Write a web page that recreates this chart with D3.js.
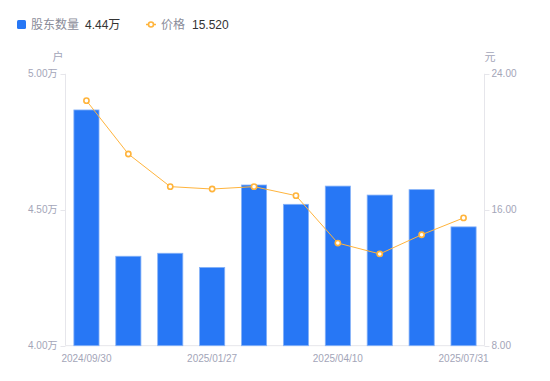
<!DOCTYPE html>
<html><head><meta charset="utf-8">
<script src="https://cdn.jsdelivr.net/npm/d3@7"></script>
<style>
body{margin:0;background:#fff;}
svg{display:block;font-family:"Liberation Sans",Arial,"Noto Sans CJK SC",sans-serif;}
</style></head>
<body>
<svg id="c" width="550" height="381"></svg>
<script>
const dates = ["2024/09/30","2024/10/31","2024/12/20","2025/01/27","2025/02/28","2025/03/20","2025/04/10","2025/05/20","2025/06/30","2025/07/31"];
const holders = [4.867,4.329,4.340,4.288,4.591,4.520,4.587,4.554,4.574,4.437];
const prices = [22.42,19.28,17.36,17.22,17.36,16.83,14.04,13.40,14.53,15.52];
const leftTicks = [4.00,4.50,5.00];
const rightTicks = [8,16,24];
const xLabels = ["2024/09/30","2025/01/27","2025/04/10","2025/07/31"];

const svg = d3.select("#c");
const L = 65.5, R = 484.5, T = 73.8, B = 345.7;
const cjk = '"Noto Sans CJK SC","Liberation Sans",sans-serif';
const axisColor = "#A3A5B8";
const lineColor = "#E6E6EB";

const x = d3.scaleBand().domain(dates).range([L, R]).paddingInner(0.4).paddingOuter(0.2);
const yL = d3.scaleLinear().domain([4, 5]).range([B, T]);
const yR = d3.scaleLinear().domain([8, 24]).range([B, T]);

svg.append("line").attr("x1", L).attr("x2", L).attr("y1", T).attr("y2", B).attr("stroke", lineColor);
svg.append("line").attr("x1", R).attr("x2", R).attr("y1", T).attr("y2", B).attr("stroke", lineColor);
svg.append("line").attr("x1", L).attr("x2", R).attr("y1", B).attr("y2", B).attr("stroke", lineColor);

svg.selectAll(".lt").data(leftTicks).enter().append("line")
  .attr("x1", L - 5).attr("x2", L).attr("y1", d => Math.round(yL(d)) + 0.5).attr("y2", d => Math.round(yL(d)) + 0.5)
  .attr("stroke", lineColor);
svg.selectAll(".ltl").data(leftTicks).enter().append("text")
  .attr("x", L - 8).attr("y", d => yL(d) + 3.5).attr("text-anchor", "end")
  .attr("font-size", 10).attr("fill", axisColor)
  .text(d => d.toFixed(2) + "万");
svg.selectAll(".rt").data(rightTicks).enter().append("line")
  .attr("x1", R).attr("x2", R + 5).attr("y1", d => Math.round(yR(d)) + 0.5).attr("y2", d => Math.round(yR(d)) + 0.5)
  .attr("stroke", lineColor);
svg.selectAll(".rtl").data(rightTicks).enter().append("text")
  .attr("x", R + 7).attr("y", d => yR(d) + 3.5).attr("text-anchor", "start")
  .attr("font-size", 10).attr("fill", axisColor)
  .text(d => d.toFixed(2));

svg.append("text").attr("x", 58).attr("y", 61).attr("text-anchor", "middle").attr("font-size", 11)
  .attr("fill", axisColor).style("font-family", cjk).text("户");
svg.append("text").attr("x", 490).attr("y", 61).attr("text-anchor", "middle").attr("font-size", 11)
  .attr("fill", axisColor).style("font-family", cjk).text("元");

svg.selectAll(".xl").data(xLabels).enter().append("text")
  .attr("x", d => x(d) + x.bandwidth() / 2).attr("y", B + 16).attr("text-anchor", "middle")
  .attr("font-size", 10).attr("fill", axisColor).text(d => d);

svg.selectAll(".bar").data(dates).enter().append("rect")
  .attr("x", d => x(d)).attr("width", x.bandwidth())
  .attr("y", (d, i) => yL(holders[i])).attr("height", (d, i) => B - yL(holders[i]))
  .attr("fill", "#2777F5").attr("stroke", "#86B2F8").attr("stroke-width", 0.8);

const line = d3.line().x((d, i) => x(dates[i]) + x.bandwidth() / 2).y(d => yR(d));
svg.append("path").datum(prices).attr("d", line).attr("fill", "none").attr("stroke", "#FFB43C").attr("stroke-width", 1);
svg.selectAll(".pt").data(prices).enter().append("circle")
  .attr("cx", (d, i) => x(dates[i]) + x.bandwidth() / 2).attr("cy", d => yR(d)).attr("r", 2.6)
  .attr("fill", "#fff").attr("stroke", "#FFB43C").attr("stroke-width", 1.6);

svg.append("rect").attr("x", 17).attr("y", 20).attr("width", 9).attr("height", 9).attr("rx", 1.5).attr("fill", "#2777F5");
svg.append("text").attr("x", 31).attr("y", 29).attr("font-size", 12).attr("fill", "#8A8C99").style("font-family", cjk).text("股东数量");
svg.append("text").attr("x", 85).attr("y", 29).attr("font-size", 12).attr("fill", "#333")
  .text(holders[holders.length - 1].toFixed(2) + "万");
svg.append("line").attr("x1", 146).attr("x2", 156).attr("y1", 24.5).attr("y2", 24.5).attr("stroke", "#FFB43C").attr("stroke-width", 1.5);
svg.append("circle").attr("cx", 151).attr("cy", 24.5).attr("r", 2.5).attr("fill", "#fff").attr("stroke", "#FFB43C").attr("stroke-width", 1.6);
svg.append("text").attr("x", 161).attr("y", 29).attr("font-size", 12).attr("fill", "#8A8C99").style("font-family", cjk).text("价格");
svg.append("text").attr("x", 192).attr("y", 29).attr("font-size", 12).attr("fill", "#333")
  .text(prices[prices.length - 1].toFixed(3));
</script>
</body></html>
